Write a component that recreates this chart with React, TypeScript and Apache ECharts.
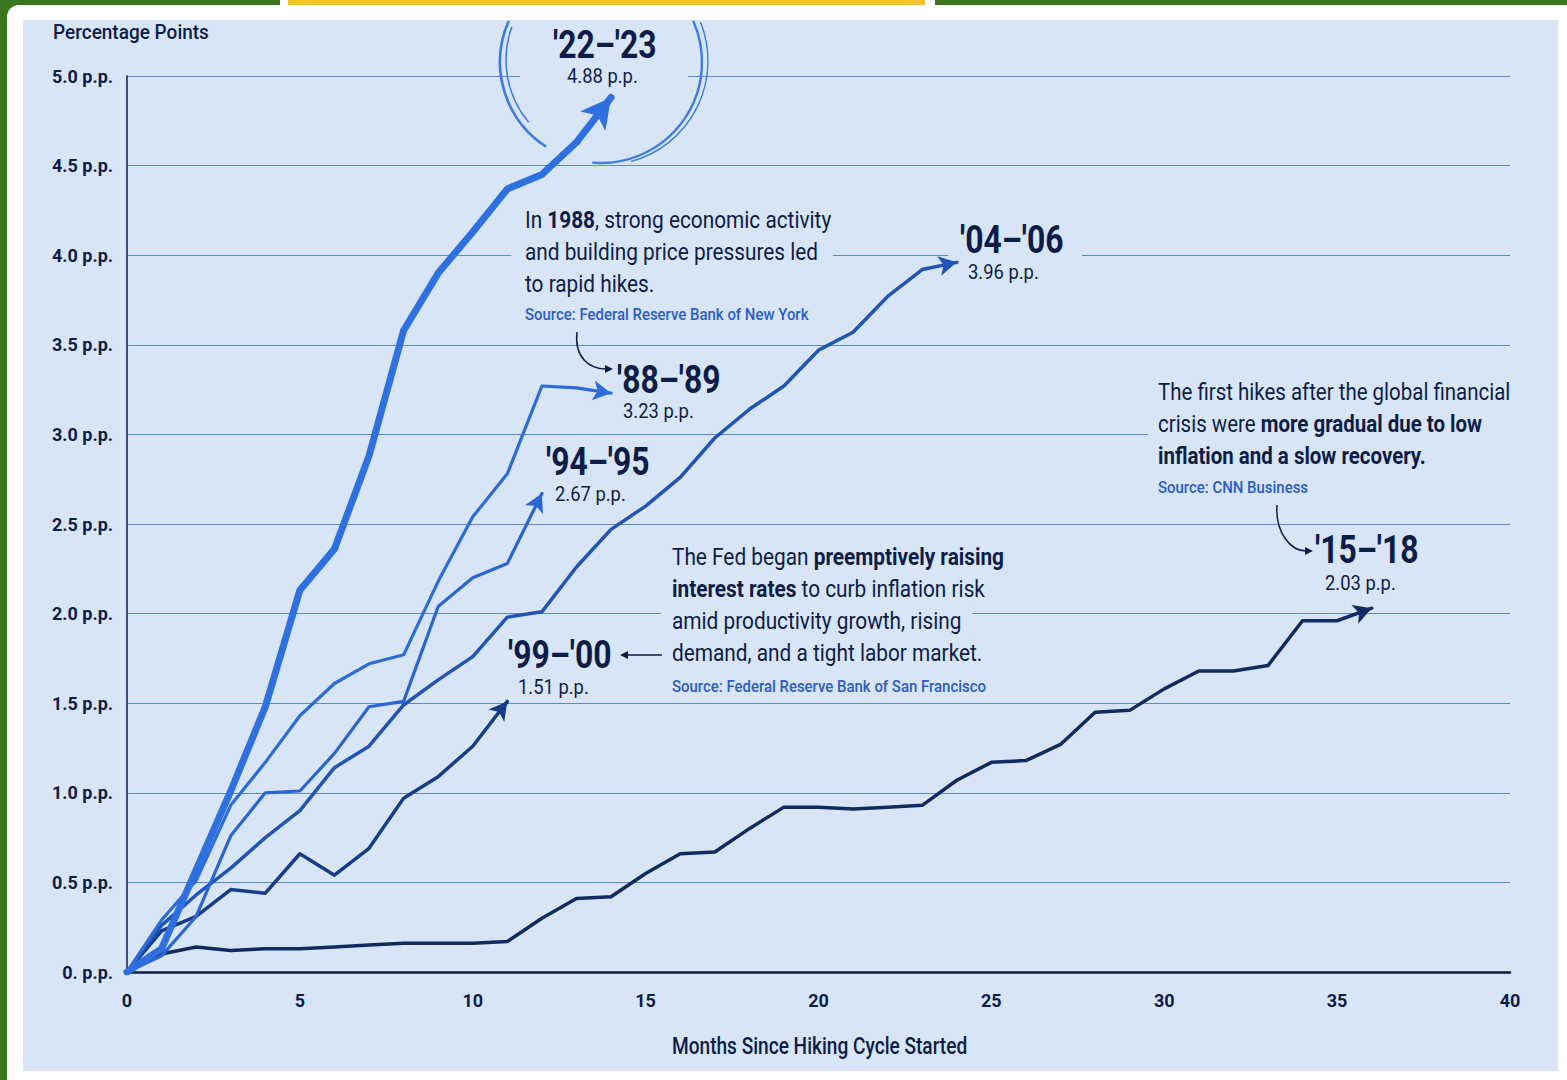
import React, { useEffect, useRef } from "react";
import * as echarts from "echarts";

// ---- data (percentage-point increase by month since first hike) ----
const cycle1518 = [0, 0.1, 0.14, 0.12, 0.13, 0.13, 0.14, 0.15, 0.16, 0.16, 0.16, 0.17, 0.3, 0.41, 0.42, 0.55, 0.66, 0.67, 0.8, 0.92, 0.92, 0.91, 0.92, 0.93, 1.07, 1.17, 1.18, 1.27, 1.45, 1.46, 1.58, 1.68, 1.68, 1.71, 1.96, 1.96, 2.03];
const cycle9900 = [0, 0.23, 0.31, 0.46, 0.44, 0.66, 0.54, 0.69, 0.97, 1.09, 1.26, 1.51];
const cycle0406 = [0, 0.26, 0.43, 0.58, 0.75, 0.9, 1.14, 1.26, 1.49, 1.63, 1.76, 1.98, 2.01, 2.26, 2.47, 2.6, 2.76, 2.98, 3.14, 3.27, 3.47, 3.57, 3.77, 3.92, 3.96];
const cycle9495 = [0, 0.09, 0.31, 0.76, 1.0, 1.01, 1.22, 1.48, 1.51, 2.04, 2.2, 2.28, 2.67];
const cycle8889 = [0, 0.29, 0.51, 0.93, 1.17, 1.43, 1.61, 1.72, 1.77, 2.18, 2.54, 2.78, 3.27, 3.26, 3.23];
const cycle2223 = [0, 0.13, 0.57, 1.01, 1.48, 2.13, 2.36, 2.88, 3.58, 3.9, 4.13, 4.37, 4.45, 4.63, 4.88];

const cycleNames = ["'15–'18", "'99–'00", "'04–'06", "'94–'95", "'88–'89", "'22–'23"];
const cycleTotals = ["2.03 p.p.", "1.51 p.p.", "3.96 p.p.", "2.67 p.p.", "3.23 p.p.", "4.88 p.p."];
const cycleValues = [cycle1518, cycle9900, cycle0406, cycle9495, cycle8889, cycle2223];

const xMin = 0;
const xMax = 40;
const xStep = 5;
const yMin = 0;
const yMax = 5;
const yStep = 0.5;

const yAxisTitle = "Percentage Points";
const xAxisTitle = "Months Since Hiking Cycle Started";

const note1988 = ["In {b|1988}, strong economic activity", "and building price pressures led", "to rapid hikes."];
const source1988 = "Source: Federal Reserve Bank of New York";
const note1999 = [
  "The Fed began {b|preemptively raising}",
  "{b|interest rates} to curb inflation risk",
  "amid productivity growth, rising",
  "demand, and a tight labor market.",
];
const source1999 = "Source: Federal Reserve Bank of San Francisco";
const note2015 = ["The first hikes after the global financial", "crisis were {b|more gradual due to low}", "{b|inflation and a slow recovery.}"];
const source2015 = "Source: CNN Business";

// ---- styles ----
const PAPER = "#d8e5f7";
const INK = "#0d1d47";
const SOURCE = "#2a5cc6";
const GRID = "#5d88d6";
const FONT = "Roboto, 'DejaVu Sans Condensed', sans-serif";
const BODY_SX = 0.905;
const BIG_SX = 0.84;
const SRC_SX = 0.935;

const seriesColors = ["#112b61", "#173c88", "#2154b4", "#2b65d2", "#2d6bd9", "#2f70e0"];
const seriesWidths = [3.5, 3.5, 3.5, 3.2, 3.2, 7];
const arrowSizes: [number, number][] = [
  [15, 18], [15, 18], [15, 18], [15, 18], [15, 18], [24, 30],
];

function buildSeries(rotations: number[]) {
  return cycleValues.map((vals, si) => ({
    name: cycleNames[si],
    type: "line",
    z: 2 + si * 0.01,
    symbol: "none",
    smooth: false,
    silent: true,
    lineStyle: { color: seriesColors[si], width: seriesWidths[si], join: "round", cap: "round" },
    itemStyle: { color: seriesColors[si] },
    data: vals.map((v, i) =>
      i === vals.length - 1
        ? {
            value: [i, v],
            symbol: "arrow",
            symbolSize: arrowSizes[si],
            symbolRotate: rotations[si],
            itemStyle: { color: seriesColors[si] },
          }
        : [i, v]
    ),
  }));
}

function text(
  x: number,
  y: number,
  content: string,
  size: number,
  weight: string | number,
  color: string,
  sx: number,
  extra: any = {},
  z = 5
) {
  const pad = extra.padding ? extra.padding[3] : 0;
  return {
    type: "text",
    x: x - pad * sx,
    y,
    z,
    scaleX: sx,
    silent: true,
    style: {
      text: content,
      fontFamily: FONT,
      fontSize: size,
      fontWeight: weight,
      fill: color,
      align: "left",
      verticalAlign: "middle",
      ...extra,
    },
  };
}

const rich = { b: { fontWeight: "bold", fontSize: 23, fontFamily: FONT, fill: INK } };

function note(els: any[], x: number, y0: number, lines: string[], bgLines: number[], pad: number[], sx: number) {
  lines.forEach((ln, i) => {
    const bg = bgLines.indexOf(i) >= 0;
    els.push(
      text(
        x,
        y0 + i * 32,
        ln,
        23,
        "normal",
        INK,
        sx,
        bg ? { backgroundColor: PAPER, padding: pad, rich } : { rich },
        bg ? 1 : 5
      )
    );
  });
}

function buildGraphics() {
  const els: any[] = [];
  // gap in the 5.0 gridline inside the circle
  els.push({ type: "rect", z: 1, silent: true, shape: { x: 520, y: 70, width: 168, height: 12 }, style: { fill: PAPER } });
  const arcs = [
    { cx: 601, cy: 62, r: 101, s: 123, e: 204, w: 2.6 },
    { cx: 603, cy: 60, r: 97, s: 140, e: 200, w: 1.5 },
    { cx: 601, cy: 62, r: 101, s: -24, e: 95, w: 2.4 },
    { cx: 604, cy: 61, r: 104, s: -22, e: 75, w: 1.4 },
  ];
  arcs.forEach((a) =>
    els.push({
      type: "arc",
      z: 1,
      silent: true,
      shape: { cx: a.cx, cy: a.cy, r: a.r, startAngle: (a.s * Math.PI) / 180, endAngle: (a.e * Math.PI) / 180, clockwise: true },
      style: { stroke: "#3d7be0", lineWidth: a.w, fill: null },
    })
  );

  // axis titles
  els.push(text(53, 32, yAxisTitle, 20, 500, INK, 0.95));
  els.push(text(672, 1046, xAxisTitle, 23, 500, INK, 0.83));

  // series labels
  const labelPos = [
    [1315, 550, 1325, 583],
    [508, 655, 518, 687],
    [960, 240, 968, 272],
    [546, 462, 555, 494],
    [617, 380, 623, 411],
    [553, 45, 567, 76],
  ];
  labelPos.forEach((p, i) => {
    const bg = i === 2 ? { backgroundColor: PAPER, padding: [2, 22, 2, 14] } : {};
    els.push(text(p[0], p[1], cycleNames[i], 38, "bold", INK, BIG_SX, bg, i === 2 ? 1 : 5));
    els.push(text(p[2], p[3], cycleTotals[i], 20, "normal", INK, 0.92));
  });

  // annotations
  note(els, 525, 220, note1988, [1], [2, 16, 2, 15], BODY_SX);
  els.push(text(525, 315, source1988, 16, 500, SOURCE, SRC_SX));
  note(els, 672, 557, note1999, [2], [2, 12, 2, 12], BODY_SX);
  els.push(text(672, 687, source1999, 16, 500, SOURCE, SRC_SX));
  note(els, 1158, 392, note2015, [1], [2, 40, 2, 11], 0.89);
  els.push(text(1158, 488, source2015, 16, 500, SOURCE, SRC_SX));

  // pointer arrows
  const pointer = { stroke: INK, lineWidth: 1.5, fill: null };
  els.push({ type: "bezierCurve", z: 5, silent: true, shape: { x1: 577, y1: 332, cpx1: 574, cpy1: 358, cpx2: 590, cpy2: 369, x2: 606, y2: 369 }, style: pointer });
  els.push({ type: "polygon", z: 5, silent: true, shape: { points: [[613, 369], [605, 365], [605, 373]] }, style: { fill: INK } });
  els.push({ type: "bezierCurve", z: 5, silent: true, shape: { x1: 1277, y1: 505, cpx1: 1275, cpy1: 533, cpx2: 1291, cpy2: 551, x2: 1306, y2: 551 }, style: pointer });
  els.push({ type: "polygon", z: 5, silent: true, shape: { points: [[1313, 551], [1305, 547], [1305, 555]] }, style: { fill: INK } });
  els.push({ type: "line", z: 5, silent: true, shape: { x1: 627, y1: 655, x2: 662, y2: 655 }, style: { stroke: INK, lineWidth: 1.5 } });
  els.push({ type: "polygon", z: 5, silent: true, shape: { points: [[620, 655], [628, 651], [628, 659]] }, style: { fill: INK } });

  return els;
}

function buildOption(rotations: number[]) {
  return {
    animation: false,
    backgroundColor: "transparent",
    grid: { left: 127, right: 57, top: 76, bottom: 108, containLabel: false },
    xAxis: {
      type: "value",
      min: xMin,
      max: xMax,
      interval: xStep,
      axisLine: { show: true, lineStyle: { color: INK, width: 2.5 } },
      axisTick: { show: false },
      splitLine: { show: false },
      axisLabel: { margin: 19, fontFamily: FONT, fontSize: 18, fontWeight: "bold", color: INK },
    },
    yAxis: {
      type: "value",
      min: yMin,
      max: yMax,
      interval: yStep,
      axisLine: { show: true, lineStyle: { color: INK, width: 1.5 } },
      axisTick: { show: false },
      splitLine: { show: true, lineStyle: { color: GRID, width: 1.2 } },
      axisLabel: {
        margin: 14,
        fontFamily: FONT,
        fontSize: 18,
        fontWeight: "bold",
        color: INK,
        formatter: (v: number) => (v === 0 ? "0. p.p." : v.toFixed(1) + " p.p."),
      },
    },
    graphic: { elements: buildGraphics() },
    series: buildSeries(rotations),
  };
}

export default function App() {
  const ref = useRef<HTMLDivElement>(null);
  useEffect(() => {
    if (!ref.current) return;
    const chart = echarts.init(ref.current, undefined, { renderer: "svg" });
    chart.setOption(buildOption(cycleValues.map(() => 0)) as any);
    const rotations = cycleValues.map((vals) => {
      const n = vals.length;
      const a = chart.convertToPixel({ gridIndex: 0 } as any, [n - 2, vals[n - 2]]) as number[];
      const b = chart.convertToPixel({ gridIndex: 0 } as any, [n - 1, vals[n - 1]]) as number[];
      const ang = (Math.atan2(-(b[1] - a[1]), b[0] - a[0]) * 180) / Math.PI;
      return ang - 90;
    });
    chart.setOption({ series: buildSeries(rotations) } as any);
    return () => chart.dispose();
  }, []);

  return (
    <div style={{ position: "absolute", left: 0, top: 0, width: 1567, height: 1080, background: "#ffffff", overflow: "hidden" }}>
      <div style={{ position: "absolute", left: 0, top: 0, width: 30, height: 30, background: "#3a751f" }} />
      <div style={{ position: "absolute", left: 0, top: 0, width: 7, height: 1080, background: "#3a751f" }} />
      <div style={{ position: "absolute", left: 7, top: 5, width: 1560, height: 1075, background: "#ffffff", borderTopLeftRadius: 12 }} />
      <div style={{ position: "absolute", left: 0, top: 0, width: 280, height: 5, background: "#3a751f" }} />
      <div style={{ position: "absolute", left: 288, top: 0, width: 637, height: 5, background: "#f0c133" }} />
      <div style={{ position: "absolute", left: 935, top: 0, width: 632, height: 5, background: "#3a751f" }} />
      <div style={{ position: "absolute", left: 23, top: 20, width: 1535, height: 1051, background: PAPER }} />
      <div ref={ref} style={{ position: "absolute", left: 0, top: 0, width: 1567, height: 1080 }} />
    </div>
  );
}
